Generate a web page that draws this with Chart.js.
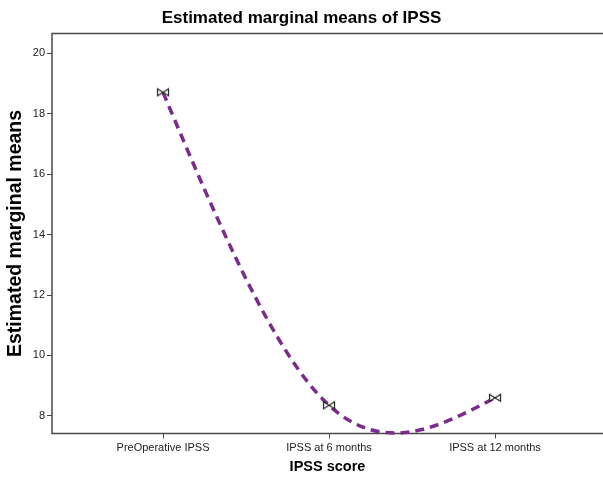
<!DOCTYPE html>
<html><head><meta charset="utf-8">
<script src="https://cdn.jsdelivr.net/npm/chart.js@4.4.0/dist/chart.umd.min.js"></script>
<style>html,body{margin:0;padding:0;background:#fff;}</style>
</head><body>
<canvas id="c" width="603" height="480"></canvas>
<script>
const categories = ['PreOperative IPSS', 'IPSS at 6 months', 'IPSS at 12 months'];
const ipssMeans = [18.71, 8.35, 8.60];
const yTickValues = [8, 10, 12, 14, 16, 18, 20];
const chartTitle = 'Estimated marginal means of IPSS';
const xTitle = 'IPSS score';
const yTitle = 'Estimated marginal means';

// bowtie marker
const marker = document.createElement('canvas');
marker.width = 14; marker.height = 10;
(function () {
  const g = marker.getContext('2d');
  g.fillStyle = '#fff'; g.strokeStyle = '#222'; g.lineWidth = 1.2;
  g.beginPath();
  g.moveTo(1.5, 1.5); g.lineTo(7, 5); g.lineTo(1.5, 8.5); g.closePath();
  g.moveTo(12.5, 1.5); g.lineTo(7, 5); g.lineTo(12.5, 8.5); g.closePath();
  g.fill(); g.stroke();
})();

function applyNaturalSpline(chart) {
  const meta = chart.getDatasetMeta(0);
  const pts = meta.data; const n = pts.length;
  if (!meta.dataset || n < 3) return;
  const x = pts.map(p => p.x), y = pts.map(p => p.y);
  const h = [];
  for (let i = 0; i < n - 1; i++) h[i] = x[i + 1] - x[i];
  const a = [], b = [], c = [], d = [];
  for (let i = 1; i < n - 1; i++) {
    a.push(h[i - 1]); b.push(2 * (h[i - 1] + h[i])); c.push(h[i]);
    d.push(6 * ((y[i + 1] - y[i]) / h[i] - (y[i] - y[i - 1]) / h[i - 1]));
  }
  const m = n - 2;
  for (let i = 1; i < m; i++) { const w = a[i] / b[i - 1]; b[i] -= w * c[i - 1]; d[i] -= w * d[i - 1]; }
  const Mi = new Array(m);
  Mi[m - 1] = d[m - 1] / b[m - 1];
  for (let i = m - 2; i >= 0; i--) Mi[i] = (d[i] - c[i] * Mi[i + 1]) / b[i];
  const M = [0, ...Mi, 0];
  for (let i = 0; i < n - 1; i++) {
    const s = (y[i + 1] - y[i]) / h[i];
    const d0 = s - h[i] * (2 * M[i] + M[i + 1]) / 6;
    const d1 = s + h[i] * (M[i] + 2 * M[i + 1]) / 6;
    pts[i].cp2x = x[i] + h[i] / 3; pts[i].cp2y = y[i] + h[i] / 3 * d0;
    pts[i + 1].cp1x = x[i + 1] - h[i] / 3; pts[i + 1].cp1y = y[i + 1] - h[i] / 3 * d1;
  }
  pts[0].cp1x = x[0]; pts[0].cp1y = y[0];
  pts[n - 1].cp2x = x[n - 1]; pts[n - 1].cp2y = y[n - 1];
  meta.dataset._pointsUpdated = true;
  meta.dataset._path = undefined;
}

const splinePlugin = {
  id: 'naturalSpline',
  afterDatasetsUpdate(chart) { applyNaturalSpline(chart); },
  beforeDatasetDraw(chart) { applyNaturalSpline(chart); }
};

const framePlugin = {
  id: 'frame',
  beforeDatasetsDraw(chart) {
    const { left, top, bottom } = chart.chartArea;
    const ctx = chart.ctx;
    ctx.save();
    ctx.strokeStyle = '#4a4a4a';
    ctx.lineWidth = 1.5;
    ctx.beginPath();
    ctx.moveTo(chart.width + 2, top); ctx.lineTo(left, top); ctx.lineTo(left, bottom); ctx.lineTo(chart.width + 2, bottom);
    ctx.stroke();
    ctx.restore();
  }
};

new Chart(document.getElementById('c'), {
  type: 'line',
  data: {
    datasets: [{
      data: ipssMeans.map((v, i) => ({ x: i, y: v })),
      borderColor: '#7b2a8e',
      borderWidth: 3.5,
      borderDash: [9, 6],
      tension: 0.4,
      fill: false,
      clip: 6,
      pointStyle: marker,
      pointRadius: 6,
      pointHoverRadius: 6,
      pointBorderWidth: 1
    }]
  },
  options: {
    responsive: false,
    animation: false,
    devicePixelRatio: 1,
    elements: { line: { capBezierPoints: false } },
    layout: { autoPadding: false, padding: { left: 0, right: 0, top: 0, bottom: 0 } },
    plugins: {
      legend: { display: false },
      tooltip: { enabled: false },
      title: {
        display: true, text: chartTitle, color: '#000',
        font: { family: 'Liberation Sans, Arial, sans-serif', size: 17, weight: 'bold' },
        padding: { top: 8, bottom: 5 }
      }
    },
    scales: {
      x: {
        type: 'linear',
        min: -0.6687, max: 2.6506,
        afterBuildTicks: s => { s.ticks = categories.map((_, i) => ({ value: i })); },
        afterFit: s => { s.height = 480 - 433.5; s.paddingLeft = 0; s.paddingRight = 0; },
        ticks: {
          callback: v => categories[v],
          color: '#222', padding: 3, maxRotation: 0, autoSkip: false,
          font: { family: 'Liberation Sans, Arial, sans-serif', size: 11 }
        },
        grid: { display: true, drawOnChartArea: false, drawTicks: true, tickLength: 5, color: '#444', lineWidth: 1 },
        border: { display: false },
        title: {
          display: true, text: xTitle, color: '#000',
          font: { family: 'Liberation Sans, Arial, sans-serif', size: 14.5, weight: 'bold' },
          padding: { top: 0, bottom: 4 }
        }
      },
      y: {
        min: 7.417, max: 20.66,
        afterBuildTicks: s => { s.ticks = yTickValues.map(v => ({ value: v })); },
        afterFit: s => { s.width = 52; s.paddingTop = 0; s.paddingBottom = 0; },
        ticks: {
          color: '#222', padding: 2,
          font: { family: 'Liberation Sans, Arial, sans-serif', size: 11 }
        },
        grid: { display: true, drawOnChartArea: false, drawTicks: true, tickLength: 5, color: '#444', lineWidth: 1 },
        border: { display: false },
        title: {
          display: true, text: yTitle, color: '#000',
          font: { family: 'Liberation Sans, Arial, sans-serif', size: 19.5, weight: 'bold' },
          padding: { top: 4, bottom: 0 }
        }
      }
    }
  },
  plugins: [splinePlugin, framePlugin]
});
</script>
</body></html>
